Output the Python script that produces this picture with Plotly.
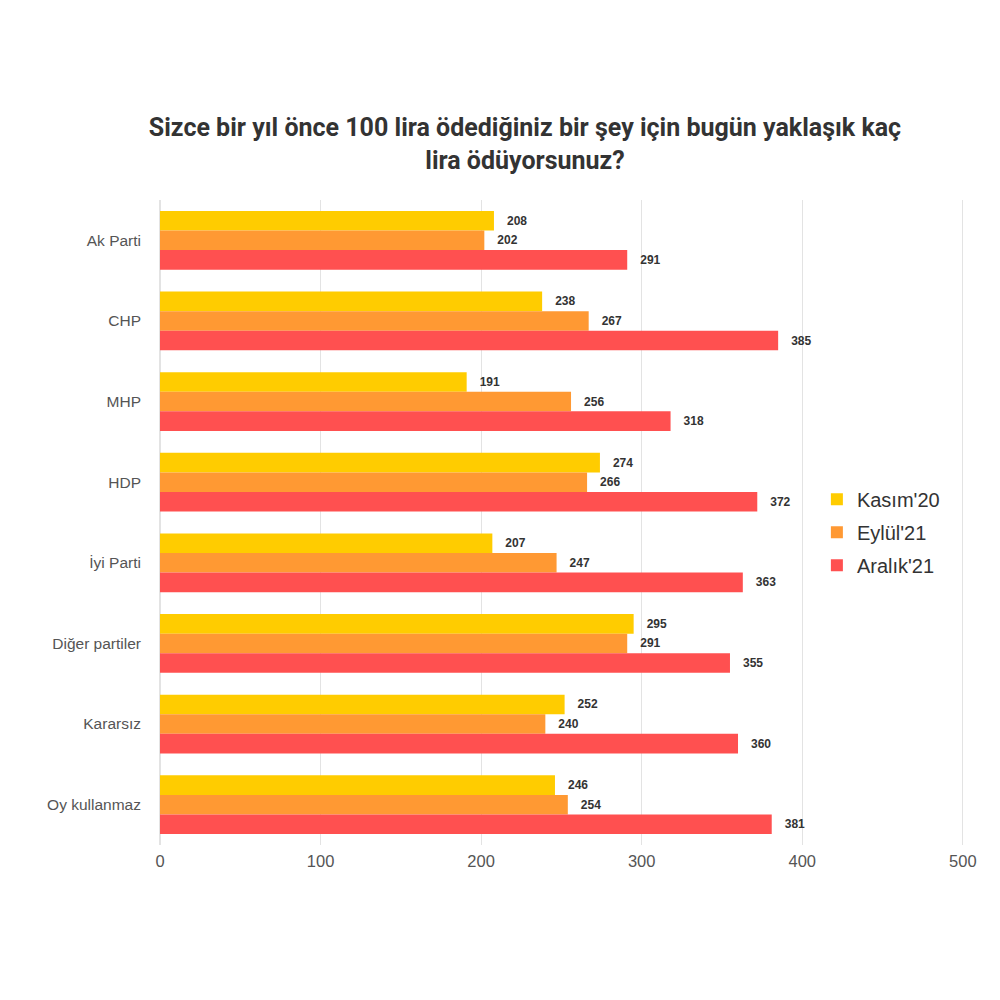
import plotly.graph_objects as go

categories = ["Ak Parti", "CHP", "MHP", "HDP", "İyi Parti", "Diğer partiler", "Kararsız", "Oy kullanmaz"]
series_names = ["Kasım'20", "Eylül'21", "Aralık'21"]
kasim20 = [208, 238, 191, 274, 207, 295, 252, 246]
eylul21 = [202, 267, 256, 266, 247, 291, 240, 254]
aralik21 = [291, 385, 318, 372, 363, 355, 360, 381]
colors = ["#FFCC00", "#FF9933", "#FF5050"]
x_ticks = [0, 100, 200, 300, 400, 500]

fig = go.Figure()
for i, (name, vals, col) in enumerate(zip(series_names, [kasim20, eylul21, aralik21], colors)):
    fig.add_trace(go.Bar(
        y=categories, x=vals, name=name, orientation="h",
        legendgroup="g%d" % i,
        marker=dict(color=col, line=dict(width=0)),
        text=["   " + str(v) for v in vals], textposition="outside",
        textfont=dict(family="Liberation Sans", size=12, color="#333333", weight="bold"),
        cliponaxis=False,
    ))

fig.update_layout(
    width=1000, height=1000,
    paper_bgcolor="white", plot_bgcolor="white",
    margin=dict(l=152, r=42, t=192, b=163, autoexpand=False),
    barmode="group", bargap=0.27, bargroupgap=0,
    title=dict(
        text="<b>Sizce bir yıl önce 100 lira ödediğiniz bir şey için bugün yaklaşık kaç<br>lira ödüyorsunuz?</b>",
        x=0.517, xanchor="center", y=0.872, yanchor="middle",
        font=dict(family="Liberation Sans Narrow, Roboto", size=25, color="#333333"),
    ),
    legend=dict(
        x=0.815, y=0.485, xanchor="left", yanchor="middle",
        font=dict(family="Liberation Sans", size=20, color="#333333"),
        itemwidth=30, tracegroupgap=4, bgcolor="rgba(0,0,0,0)",
    ),
    xaxis=dict(
        range=[0, 502], tickvals=x_ticks, showgrid=True, gridcolor="#E3E3E3", gridwidth=1,
        zeroline=True, zerolinecolor="#E3E3E3", showline=False, automargin=False,
        tickfont=dict(family="Liberation Sans", size=16.5, color="#555555"),
        ticks="", ticklabelstandoff=4,
    ),
    yaxis=dict(
        autorange="reversed", showgrid=False, showline=False, automargin=False,
        tickfont=dict(family="Liberation Sans", size=15.5, color="#555555"),
        ticks="", ticklabelstandoff=18,
    ),
    showlegend=True,
)

fig.write_html("out.html")
